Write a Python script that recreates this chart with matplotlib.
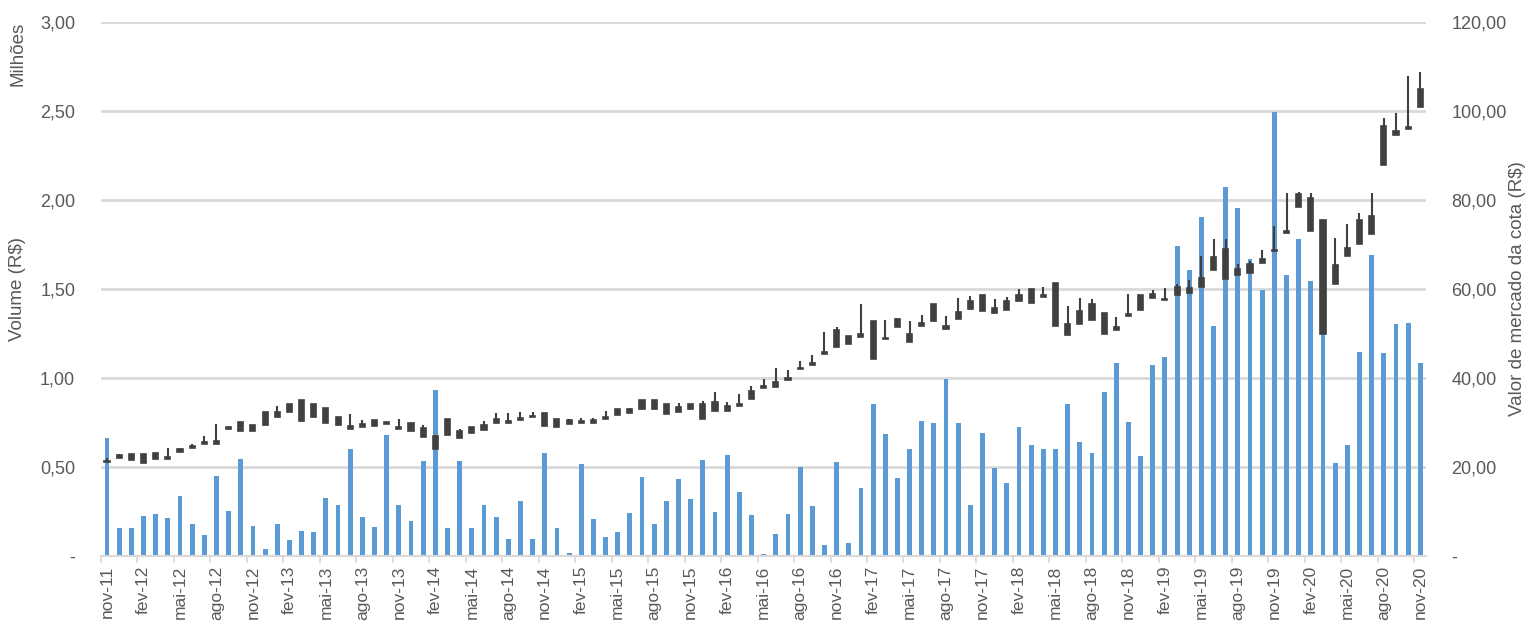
import matplotlib
matplotlib.use("Agg")
import matplotlib.pyplot as plt
import numpy as np
from matplotlib.ticker import FixedLocator, FuncFormatter

plt.rcParams['font.family'] = ['Liberation Sans', 'DejaVu Sans']

meses = ['jan', 'fev', 'mar', 'abr', 'mai', 'jun', 'jul', 'ago', 'set', 'out', 'nov', 'dez']
# monthly categories nov-11 .. nov-20
categorias = []
for k in range(109):
    m = (10 + k) % 12
    a = 11 + (10 + k) // 12
    categorias.append(f"{meses[m]}-{a:02d}")

volume_milhoes = [
    0.663, 0.160, 0.160, 0.223, 0.234, 0.212, 0.337, 0.180, 0.116, 0.449,
    0.251, 0.545, 0.167, 0.039, 0.178, 0.090, 0.140, 0.133, 0.328, 0.288,
    0.601, 0.219, 0.161, 0.678, 0.287, 0.198, 0.532, 0.934, 0.157, 0.535,
    0.155, 0.285, 0.217, 0.094, 0.307, 0.096, 0.578, 0.159, 0.017, 0.519,
    0.206, 0.107, 0.135, 0.243, 0.444, 0.180, 0.309, 0.433, 0.318, 0.537,
    0.247, 0.567, 0.358, 0.230, 0.011, 0.124, 0.234, 0.498, 0.281, 0.060,
    0.528, 0.073, 0.380, 0.854, 0.685, 0.438, 0.601, 0.758, 0.749, 0.996,
    0.749, 0.287, 0.689, 0.493, 0.412, 0.723, 0.624, 0.601, 0.599, 0.852,
    0.639, 0.579, 0.920, 1.086, 0.755, 0.560, 1.071, 1.118, 1.743, 1.608,
    1.904, 1.292, 2.071, 1.957, 1.670, 1.496, 2.496, 1.581, 1.781, 1.543,
    1.251, 0.524, 0.624, 1.148, 1.691, 1.139, 1.302, 1.311, 1.083,
]

preco_abertura = [
    21.05, 22.0, 21.5, 20.8, 21.7, 21.8, 23.4, 24.3, 25.1, 25.1,
    28.5, 28.2, 28.1, 29.4, 31.2, 32.3, 30.3, 31.3, 29.8, 29.4,
    28.5, 29.1, 29.2, 29.6, 28.6, 28.1, 26.7, 24.0, 27.3, 26.5,
    27.6, 28.3, 29.8, 29.8, 30.6, 31.2, 29.2, 28.9, 29.7, 29.96,
    29.8, 30.9, 31.8, 32.1, 33.0, 33.0, 31.9, 32.3, 33.0, 30.9,
    32.7, 32.5, 33.8, 35.2, 37.7, 38.0, 39.6, 42.0, 42.9, 45.5,
    47.0, 47.6, 49.3, 44.3, 48.8, 51.5, 48.1, 51.8, 52.9, 51.1,
    53.2, 55.4, 55.0, 54.5, 55.3, 57.2, 56.9, 58.3, 51.7, 49.6,
    52.2, 53.0, 49.9, 50.7, 53.9, 55.2, 58.0, 57.5, 58.7, 59.2,
    60.5, 64.3, 62.2, 63.1, 63.5, 65.8, 68.5, 72.6, 78.4, 73.0,
    50.0, 61.1, 67.4, 70.1, 72.4, 87.9, 94.5, 96.0, 101.0,
]
preco_fechamento = [
    21.4, 22.8, 22.9, 22.9, 23.2, 22.3, 24.0, 24.8, 25.7, 25.8,
    29.1, 30.1, 29.4, 32.3, 32.4, 34.2, 35.1, 34.2, 33.2, 31.2,
    29.2, 29.6, 30.5, 30.2, 29.1, 30.0, 28.7, 27.0, 30.9, 28.1,
    28.9, 29.4, 30.9, 30.4, 31.1, 31.5, 32.1, 30.9, 30.5, 30.3,
    30.6, 31.3, 33.0, 33.0, 35.1, 35.1, 34.1, 33.4, 34.1, 34.2,
    34.5, 33.6, 34.2, 37.1, 38.2, 39.2, 40.0, 42.3, 43.3, 45.9,
    50.9, 49.4, 50.0, 52.7, 49.1, 53.2, 49.8, 52.3, 56.7, 51.8,
    54.8, 57.3, 58.7, 55.7, 57.3, 58.7, 60.1, 58.7, 61.4, 52.1,
    55.0, 56.7, 54.6, 51.4, 54.3, 58.7, 58.8, 57.8, 60.5, 60.3,
    62.4, 67.1, 69.1, 64.5, 65.6, 66.7, 68.8, 73.0, 81.3, 80.5,
    75.4, 65.5, 69.3, 75.4, 76.3, 96.6, 95.5, 96.3, 104.9,
]
preco_maxima = [
    21.95, 23.0, 22.9, 22.9, 23.2, 24.3, 24.3, 25.2, 26.9, 29.7,
    29.1, 30.1, 29.4, 32.3, 33.7, 34.2, 35.1, 34.2, 33.2, 31.2,
    31.9, 30.6, 30.5, 30.2, 30.7, 30.0, 29.4, 27.0, 30.9, 28.5,
    28.9, 30.3, 32.2, 32.2, 32.4, 32.4, 32.1, 30.9, 30.7, 31.1,
    31.1, 32.6, 33.0, 33.2, 35.1, 35.1, 34.1, 34.3, 34.1, 34.8,
    36.9, 34.5, 36.3, 38.2, 39.7, 42.2, 41.8, 43.8, 45.2, 50.3,
    51.4, 49.4, 56.6, 52.7, 53.0, 53.5, 52.9, 54.2, 56.7, 53.9,
    57.9, 58.5, 58.7, 57.7, 58.3, 60.0, 60.1, 60.4, 61.4, 56.2,
    58.0, 57.8, 54.6, 53.7, 58.9, 58.7, 59.8, 60.2, 61.1, 62.0,
    67.4, 71.2, 71.2, 65.6, 66.3, 68.7, 74.2, 81.6, 81.8, 81.5,
    75.4, 71.5, 74.7, 77.1, 81.5, 98.5, 99.6, 107.9, 108.7,
]
preco_minima = [min(o, c) for o, c in zip(preco_abertura, preco_fechamento)]

ticks_esq = [0, 0.5, 1.0, 1.5, 2.0, 2.5, 3.0]
ticks_dir = [0, 20, 40, 60, 80, 100, 120]

TXT = '#595959'
GRID = '#d9d9d9'
AZUL = '#5B9BD5'
CANDLE = '#404040'
FS_Y = 13
FS_X = 12.5
FS_T = 13.5

fig = plt.figure(figsize=(15.27, 6.23), dpi=100)
ax = fig.add_axes([0.0661, 0.1075, 0.9341 - 0.0661, 0.9647 - 0.1075])
ax2 = ax.twinx()

x = np.arange(len(categorias))
ax.bar(x, volume_milhoes, width=0.4, color=AZUL, zorder=2)
ax.set_ylim(0, 3.0)
ax.set_xlim(-0.5, len(categorias) - 0.5)
ax.yaxis.set_major_locator(FixedLocator(ticks_esq))
ax.yaxis.set_major_formatter(FuncFormatter(lambda v, p: '-' if v == 0 else f"{v:.2f}".replace('.', ',')))
ax.grid(axis='y', color=GRID, linewidth=2, zorder=0)
ax.set_axisbelow(True)

# x ticks: marks at category boundaries every 3 months, labels centered
ax.set_xticks(np.arange(-0.5, len(categorias), 3))
ax.set_xticklabels([])
ax.tick_params(axis='x', which='major', length=5, width=1.2, color=GRID)
ax.set_xticks(x[::3], minor=True)
ax.set_xticklabels([categorias[i] for i in x[::3]], minor=True, rotation=90,
                   fontsize=FS_X, color=TXT)
ax.tick_params(axis='x', which='minor', length=0, pad=7)
ax.tick_params(axis='y', length=0, labelsize=FS_Y, labelcolor=TXT, pad=18.5)

for s in ['top', 'left', 'right']:
    ax.spines[s].set_visible(False)
    ax2.spines[s].set_visible(False)
ax.spines['bottom'].set_color(GRID)
ax.spines['bottom'].set_linewidth(1.5)
ax2.spines['bottom'].set_visible(False)

# candlesticks
ab = np.array(preco_abertura)
fe = np.array(preco_fechamento)
mx = np.array(preco_maxima)
mn = np.array(preco_minima)
ax2.vlines(x, mn, mx, color=CANDLE, linewidth=1.5, zorder=3)
base = np.minimum(ab, fe)
alt = np.abs(fe - ab)
ax2.bar(x, alt, bottom=base, width=0.42, color=CANDLE, edgecolor=CANDLE,
        linewidth=1.2, zorder=4)
ax2.set_ylim(0, 120)
ax2.yaxis.set_major_locator(FixedLocator(ticks_dir))
ax2.yaxis.set_major_formatter(FuncFormatter(lambda v, p: '-' if v == 0 else f"{v:.2f}".replace('.', ',')))
ax2.tick_params(axis='y', length=0, labelsize=FS_Y, labelcolor=TXT, pad=18)

fig.text(18 / 1527, 1 - 289 / 623, 'Volume (R$)', rotation=90, ha='center', va='center',
         fontsize=FS_T, color=TXT)
fig.text(18 / 1527, 1 - 22 / 623, 'Milhões', rotation=90, ha='center', va='top',
         fontsize=FS_T, color=TXT)
fig.text(1517 / 1527, 1 - 289 / 623, 'Valor de mercado da cota (R$)', rotation=90,
         ha='center', va='center', fontsize=FS_T, color=TXT)

fig.savefig('out.png', dpi=100)
